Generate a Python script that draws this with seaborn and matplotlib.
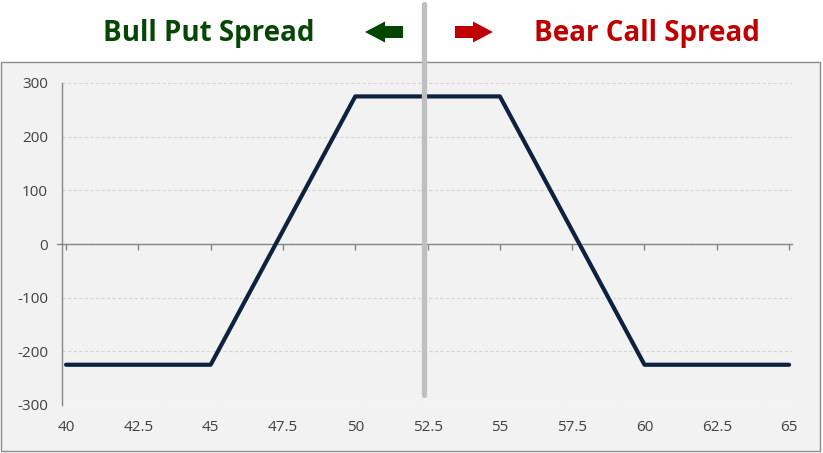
import matplotlib
matplotlib.use("Agg")
import matplotlib.pyplot as plt
from matplotlib import font_manager
from matplotlib.patches import Rectangle, Polygon
import seaborn as sns
import pandas as pd

# payoff of the combined position (bull put + bear call = iron condor)
prices = [40, 41, 42, 43, 44, 45, 46, 47, 48, 49, 50, 51, 52, 53, 54, 55,
          56, 57, 58, 59, 60, 61, 62, 63, 64, 65]
payoff = [-225, -225, -225, -225, -225, -225, -125, -25, 75, 175, 275, 275, 275,
          275, 275, 275, 175, 75, -25, -125, -225, -225, -225, -225, -225, -225]
x_ticks = [40, 42.5, 45, 47.5, 50, 52.5, 55, 57.5, 60, 62.5, 65]
x_tick_labels = ["40", "42.5", "45", "47.5", "50", "52.5", "55", "57.5", "60", "62.5", "65"]
y_ticks = [-300, -200, -100, 0, 100, 200, 300]
left_title = "Bull Put Spread"
right_title = "Bear Call Spread"

sns.set_theme(style="white")
available = {f.name for f in font_manager.fontManager.ttflist}
title_font = next((f for f in ["Liberation Sans Narrow", "Open Sans", "DejaVu Sans"] if f in available), "DejaVu Sans")
tick_font = next((f for f in ["Open Sans", "Noto Sans", "DejaVu Sans"] if f in available), "DejaVu Sans")
plt.rcParams["font.family"] = [tick_font, "DejaVu Sans"]
plt.rcParams["axes.unicode_minus"] = False

W, H = 823, 453
fig = plt.figure(figsize=(W / 100, H / 100), dpi=100)
fig.patch.set_facecolor("white")

# grey chart panel under the plot
panel = Rectangle((1 / W, 2 / H), 819 / W, (451 - 62) / H, transform=fig.transFigure,
                  facecolor="#f2f2f2", edgecolor="#8c8c8c", linewidth=1, zorder=-5)
fig.patches.append(panel)

ax = fig.add_axes([62 / W, (H - 405) / H, (792 - 62) / W, (405 - 83) / H])
ax.set_zorder(2)
ax.set_facecolor("#f2f2f2")

df = pd.DataFrame({"price": prices, "payoff": payoff})
sns.lineplot(data=df, x="price", y="payoff", ax=ax, color="#0d223f", linewidth=3.0,
             solid_capstyle="round", zorder=4)

ax.set_xlim(39.86, 65.1)
ax.set_ylim(-300, 300)
ax.set_xlabel("")
ax.set_ylabel("")

ax.set_yticks(y_ticks)
ax.yaxis.grid(True, color="#d4d4d4", linestyle=(0, (3, 2)), linewidth=0.8)
ax.set_axisbelow(True)
for s in ["top", "right"]:
    ax.spines[s].set_visible(False)
ax.spines["left"].set_color("#868686")
ax.spines["left"].set_linewidth(1)
ax.tick_params(axis="y", direction="out", length=4, width=1, color="#868686",
               labelsize=11, labelcolor="#404040", pad=6)

# category axis sits at zero with small ticks below it, labels at bottom
ax.spines["bottom"].set_position(("data", 0))
ax.spines["bottom"].set_color("#868686")
ax.spines["bottom"].set_linewidth(1)
ax.set_xticks(x_ticks)
ax.tick_params(axis="x", direction="out", length=4, width=1, color="#868686",
               labelbottom=False, bottom=True)
# zero line runs a little past the value axis, as in the original
ax.plot([39.7, 39.86], [0, 0], color="#868686", linewidth=1, clip_on=False, zorder=3)

sec = ax.secondary_xaxis(0)
sec.set_xticks(x_ticks, x_tick_labels)
sec.spines["bottom"].set_visible(False)
sec.tick_params(axis="x", length=0, pad=11, labelsize=11, labelcolor="#404040")

# vertical divider at 52.5 running up into the title area
ax.plot([52.37, 52.37], [-281, 447], color="#bfbfbf", linewidth=3.8, clip_on=False,
        solid_capstyle="round", zorder=5)

# titles
fig.text(209 / W, 1 - 33 / H, left_title, color="#064706", fontsize=20, fontweight="bold",
         family=title_font, ha="center", va="center")
fig.text(647 / W, 1 - 33 / H, right_title, color="#c00000", fontsize=20, fontweight="bold",
         family=title_font, ha="center", va="center")

# block arrows
def block_arrow(tip_x, tail_x, head_x, yc, color):
    pts = [(tip_x, yc), (head_x, yc - 10.5), (head_x, yc - 6), (tail_x, yc - 6),
           (tail_x, yc + 6), (head_x, yc + 6), (head_x, yc + 10.5)]
    pts = [(px / W, 1 - py / H) for px, py in pts]
    fig.patches.append(Polygon(pts, closed=True, transform=fig.transFigure,
                               facecolor=color, edgecolor="none"))

block_arrow(365, 403, 385, 32, "#004600")
block_arrow(493, 455, 473, 32, "#c00000")

fig.savefig("out.png", dpi=100)
